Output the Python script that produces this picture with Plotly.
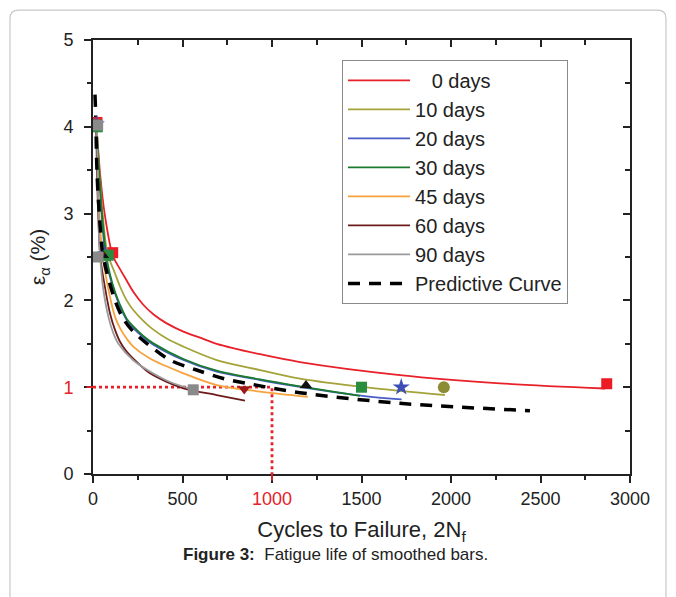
import plotly.graph_objects as go

# ---------------- data ----------------
series_names = ["\u2007 0 days", "10 days", "20 days", "30 days", "45 days", "60 days", "90 days"]
line_colors = ["#e8202a", "#a3a33a", "#4a5cc8", "#1a7a2e", "#f7a23c", "#6e1a1a", "#9a9a9a"]

red_n = [20, 40, 65, 110, 151, 188, 225, 281, 337, 412, 505, 598, 691, 933, 1156, 1715, 2274, 2860]
red_e = [4.0, 3.45, 3.0, 2.52, 2.36, 2.23, 2.10, 1.95, 1.84, 1.735, 1.64, 1.57, 1.50, 1.38, 1.29, 1.14, 1.045, 0.985]

olive_n = [20, 35, 54, 80, 123, 151, 188, 225, 281, 330, 412, 505, 691, 933, 1156, 1529, 1966]
olive_e = [4.0, 3.5, 3.0, 2.55, 2.31, 2.16, 2.0, 1.89, 1.765, 1.675, 1.56, 1.467, 1.313, 1.198, 1.10, 0.998, 0.91]

blue_n = [18, 32, 48, 70, 95, 123, 151, 188, 225, 281, 337, 505, 691, 933, 1156, 1529, 1724]
blue_e = [4.0, 3.5, 3.0, 2.5, 2.27, 2.08, 1.93, 1.774, 1.68, 1.575, 1.49, 1.313, 1.179, 1.083, 1.005, 0.895, 0.86]

green_n = [20, 34, 50, 74, 95, 123, 151, 188, 225, 281, 337, 505, 691, 933, 1156, 1492]
green_e = [4.0, 3.5, 3.0, 2.52, 2.3, 2.1, 1.95, 1.79, 1.70, 1.59, 1.505, 1.325, 1.19, 1.09, 1.01, 0.90]

orange_n = [20, 35, 55, 95, 123, 151, 188, 225, 318, 505, 691, 933, 1200]
orange_e = [4.0, 3.0, 2.5, 2.04, 1.81, 1.68, 1.56, 1.467, 1.33, 1.16, 1.025, 0.95, 0.89]

darkred_n = [18, 26, 41, 67, 95, 123, 151, 188, 250, 318, 505, 691, 849]
darkred_e = [4.0, 3.2, 2.5, 2.15, 1.85, 1.66, 1.524, 1.41, 1.28, 1.16, 0.987, 0.91, 0.845]

gray_n = [22, 27, 33, 40, 58, 86, 114, 142, 225, 318, 430, 560]
gray_e = [4.0, 3.3, 2.8, 2.5, 2.12, 1.81, 1.62, 1.50, 1.31, 1.18, 1.06, 0.975]

pred_n = [11, 15, 22, 35, 58, 123, 169, 225, 300, 430, 579, 728, 896, 1156, 1715, 2441]
pred_e = [4.37, 4.15, 3.5, 3.0, 2.5, 2.0, 1.79, 1.64, 1.506, 1.313, 1.198, 1.10, 1.03, 0.937, 0.814, 0.73]

# experimental points (markers)
pts_n = [[22, 110, 2870], [20, 80, 1960], [18, 68, 1722], [24, 85, 1500],
         [20, 55, 1190], [18, 35, 845], [26, 28, 560]]
pts_e = [[4.05, 2.55, 1.04], [4.02, 2.52, 1.0], [4.03, 2.53, 1.0], [4.0, 2.52, 1.0],
         [4.02, 2.52, 1.02], [4.05, 2.52, 0.98], [4.02, 2.5, 0.97]]
marker_symbols = ["square", "circle", "star", "square", "triangle-up", "triangle-down", "square"]
marker_colors = ["#ec1c24", "#8c8c34", "#3d4fb5", "#2a8c3e", "#111111", "#9b1b1b", "#8a8a8a"]
marker_sizes = [11, 12, 13, 11, 11, 11, 11]

ref_n = [0, 1000, 1000]
ref_e = [1, 1, 0]

x_ticks = [0, 500, 1000, 1500, 2000, 2500, 3000]
x_ticktext = ["0", "500", "<span style='color:#e8202a'>1000</span>", "1500", "2000", "2500", "3000"]
y_ticks = [0, 1, 2, 3, 4, 5]
y_ticktext = ["0", "<span style='color:#e8202a'>1</span>", "2", "3", "4", "5"]

curves_n = [red_n, olive_n, blue_n, green_n, orange_n, darkred_n, gray_n]
curves_e = [red_e, olive_e, blue_e, green_e, orange_e, darkred_e, gray_e]

FONT = "Liberation Sans, Arial, sans-serif"

fig = go.Figure()

# reference dotted lines
fig.add_trace(go.Scatter(x=ref_n, y=ref_e, mode="lines", showlegend=False,
                         line=dict(color="#e8202a", width=2.8, dash="dot"), hoverinfo="skip"))

for i in range(7):
    fig.add_trace(go.Scatter(x=curves_n[i], y=curves_e[i], mode="lines", name=series_names[i],
                             line=dict(color=line_colors[i], width=1.8, shape="spline", smoothing=0.9)))

fig.add_trace(go.Scatter(x=pred_n, y=pred_e, mode="lines", name="Predictive Curve",
                         line=dict(color="black", width=3.5, dash="12px,9px", shape="spline", smoothing=0.9)))

for i in range(7):
    fig.add_trace(go.Scatter(x=pts_n[i], y=pts_e[i], mode="markers", showlegend=False,
                             marker=dict(symbol=marker_symbols[i], color=marker_colors[i],
                                         size=marker_sizes[i], line=dict(width=0))))

# dummy trace for mirrored axes
fig.add_trace(go.Scatter(x=[None], y=[None], xaxis="x2", yaxis="y2", showlegend=False))

axis_font = dict(family=FONT, size=18, color="#222")

fig.update_layout(
    width=668, height=589,
    margin=dict(l=85, r=46, t=32, b=123),
    paper_bgcolor="white", plot_bgcolor="white",
    font=dict(family=FONT, color="#222"),
    showlegend=True,
    legend=dict(x=0.4637, y=0.954, xanchor="left", yanchor="top",
                bordercolor="#8a8a8a", borderwidth=1, bgcolor="white",
                font=dict(family=FONT, size=20, color="#222"),
                itemwidth=62, tracegroupgap=0),
    xaxis=dict(range=[0, 3000], tickvals=x_ticks, ticktext=x_ticktext, ticks="outside",
               ticklen=7, tickwidth=1.5, tickcolor="#222", showline=True, linecolor="#222",
               linewidth=1.8, showgrid=False, zeroline=False, tickfont=axis_font,
               minor=dict(dtick=250, ticks="outside", ticklen=4, tickcolor="#222", showgrid=False),
               title=dict(text="Cycles to Failure, 2N<sub>f</sub>", font=dict(family=FONT, size=22, color="#222"),
                          standoff=14)),
    yaxis=dict(range=[0, 5], tickvals=y_ticks, ticktext=y_ticktext, ticks="outside",
               ticklen=7, tickwidth=1.5, tickcolor="#222", showline=True, linecolor="#222",
               linewidth=1.8, showgrid=False, zeroline=False, tickfont=axis_font,
               ticklabelstandoff=7,
               minor=dict(dtick=0.5, ticks="outside", ticklen=4, tickcolor="#222", showgrid=False),
               title=dict(text="ε<sub>α</sub> (%)", font=dict(family=FONT, size=21, color="#222"),
                          standoff=12)),
    xaxis2=dict(range=[0, 3000], overlaying="x", side="top", tickvals=x_ticks, showticklabels=False,
                ticks="inside", ticklen=7, tickwidth=1.5, tickcolor="#222", showline=True,
                linecolor="#222", linewidth=1.8, showgrid=False, zeroline=False,
                minor=dict(dtick=250, ticks="inside", ticklen=5, tickcolor="#222", showgrid=False)),
    yaxis2=dict(range=[0, 5], overlaying="y", side="right", tickvals=y_ticks, showticklabels=False,
                ticks="inside", ticklen=7, tickwidth=1.5, tickcolor="#222", showline=True,
                linecolor="#222", linewidth=1.8, showgrid=False, zeroline=False,
                minor=dict(dtick=0.5, ticks="inside", ticklen=5, tickcolor="#222", showgrid=False)),
)

# card border (rounded) in paper coords
x0, x1 = -0.1546, 1.067
y0, y1 = -0.40, 1.069
rx, ry = 0.016, 0.019
path = (f"M {x0},{y0} L {x0},{y1-ry} Q {x0},{y1} {x0+rx},{y1} "
        f"L {x1-rx},{y1} Q {x1},{y1} {x1},{y1-ry} L {x1},{y0}")
fig.add_shape(type="path", path=path, xref="paper", yref="paper",
              line=dict(color="#c8c8c8", width=1.2), layer="below")

# red tick marks
fig.add_annotation(x=0, y=1, xref="x", yref="y", text="", showarrow=True, ax=-8, ay=0,
                   arrowhead=0, arrowwidth=1.8, arrowcolor="#e8202a")
fig.add_annotation(x=1000, y=0, xref="x", yref="y", text="", showarrow=True, ax=0, ay=8,
                   arrowhead=0, arrowwidth=1.8, arrowcolor="#e8202a")

# caption
fig.add_annotation(x=0.4525, y=-0.1866, xref="paper", yref="paper", showarrow=False,
                   text="<b>Figure 3:</b>  Fatigue life of smoothed bars.",
                   font=dict(family=FONT, size=17, color="#222"), xanchor="center", yanchor="middle")

fig.write_html("out.html")
